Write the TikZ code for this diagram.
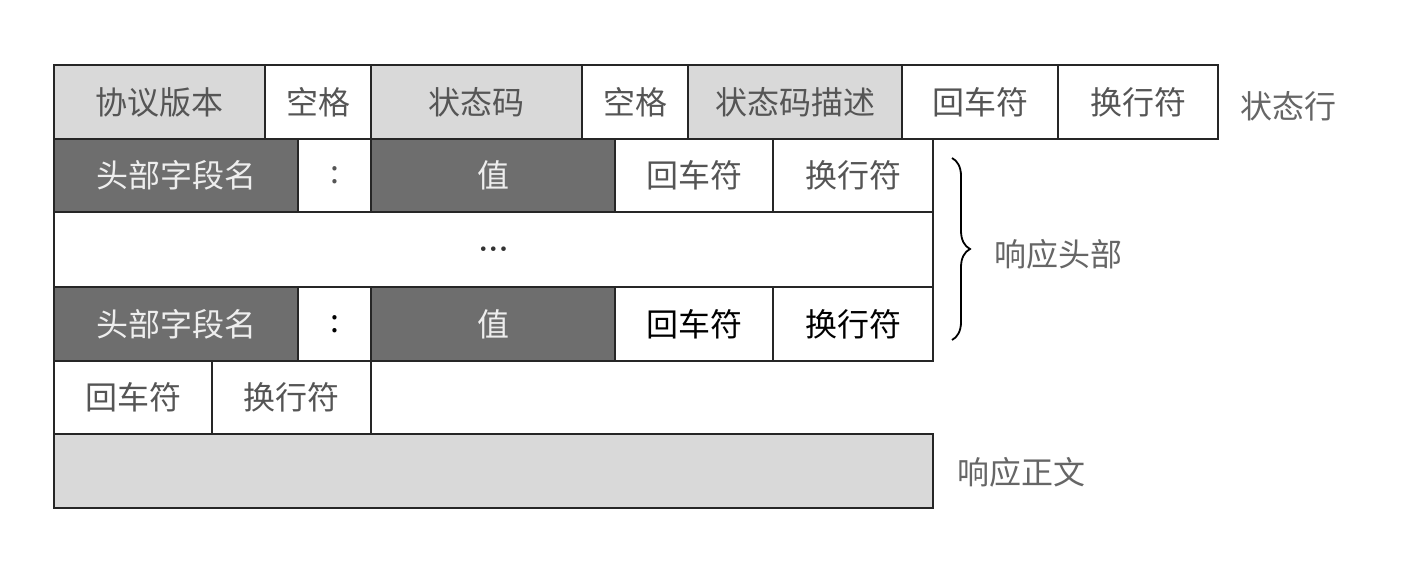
\documentclass[tikz,border=0pt]{standalone}
\usepackage{fontspec}
\newfontfamily\cjk{Noto Sans CJK SC}
\usetikzlibrary{decorations.pathreplacing}
\definecolor{lightfill}{HTML}{D9D9D9}
\definecolor{darkfill}{HTML}{6E6E6E}
\definecolor{txtgray}{HTML}{555555}
\definecolor{txtlight}{HTML}{EEEEEE}
\definecolor{lblgray}{HTML}{666666}
\newcommand{\mycell}[7]{%
  \node[cellbox,#6,minimum width={(#4-#2)*0.5pt},minimum height={(#5-#3)*0.5pt}]
    (#1) at ({(#2+#4)/2},{(#3+#5)/2}) {#7};}
\begin{document}
\begin{tikzpicture}[x=0.5pt,y=-0.5pt,
  font=\cjk\fontsize{16pt}{18pt}\selectfont,
  cellbox/.style={draw=black!85,line width=0.9pt,inner sep=0pt,outer sep=0pt,text=txtgray},
  light/.style={fill=lightfill},
  white/.style={fill=white},
  dark/.style={fill=darkfill,text=txtlight},
  blk/.style={fill=white,text=black},
  lbl/.style={text=lblgray,inner sep=0pt},
  bracestyle/.style={draw=black,line width=0.9pt,decorate,decoration={brace,amplitude=9pt}}]
\useasboundingbox (0,0) rectangle (1417,576);
% row 1: status line
\mycell{a1}{54}{65}{265}{139}{light}{协议版本}
\mycell{a2}{265}{65}{371}{139}{white}{空格}
\mycell{a3}{371}{65}{582}{139}{light}{状态码}
\mycell{a4}{582}{65}{688}{139}{white}{空格}
\mycell{a5}{688}{65}{902}{139}{light}{状态码描述}
\mycell{a6}{902}{65}{1058}{139}{white}{回车符}
\mycell{a7}{1058}{65}{1218}{139}{white}{换行符}
% row 2: header
\mycell{b1}{54}{139}{298}{212}{dark}{头部字段名}
\mycell{b2}{298}{139}{371}{212}{white}{:}
\mycell{b3}{371}{139}{615}{212}{dark}{值}
\mycell{b4}{615}{139}{773}{212}{white}{回车符}
\mycell{b5}{773}{139}{933}{212}{white}{换行符}
% row 3
\mycell{c1}{54}{212}{933}{287}{white}{\textcolor{black!80}{\rmfamily\bfseries ...}}
% row 4
\mycell{d1}{54}{287}{298}{361}{dark}{头部字段名}
\mycell{d2}{298}{287}{371}{361}{blk}{:}
\mycell{d3}{371}{287}{615}{361}{dark}{值}
\mycell{d4}{615}{287}{773}{361}{blk}{回车符}
\mycell{d5}{773}{287}{933}{361}{blk}{换行符}
% row 5
\mycell{e1}{54}{361}{212}{434}{white}{回车符}
\mycell{e2}{212}{361}{371}{434}{white}{换行符}
% row 6
\mycell{f1}{54}{434}{933}{508}{light}{}
% labels
\node[lbl] (statusline) at (1288,106) {状态行};
\coordinate (bt) at (952,158);
\coordinate (bb) at (952,340);
\draw[bracestyle] (bt) -- (bb);
\node[lbl] (hdr) at (1058,254) {响应头部};
\node[lbl] (body) at (1021,472) {响应正文};
\end{tikzpicture}
\end{document}
